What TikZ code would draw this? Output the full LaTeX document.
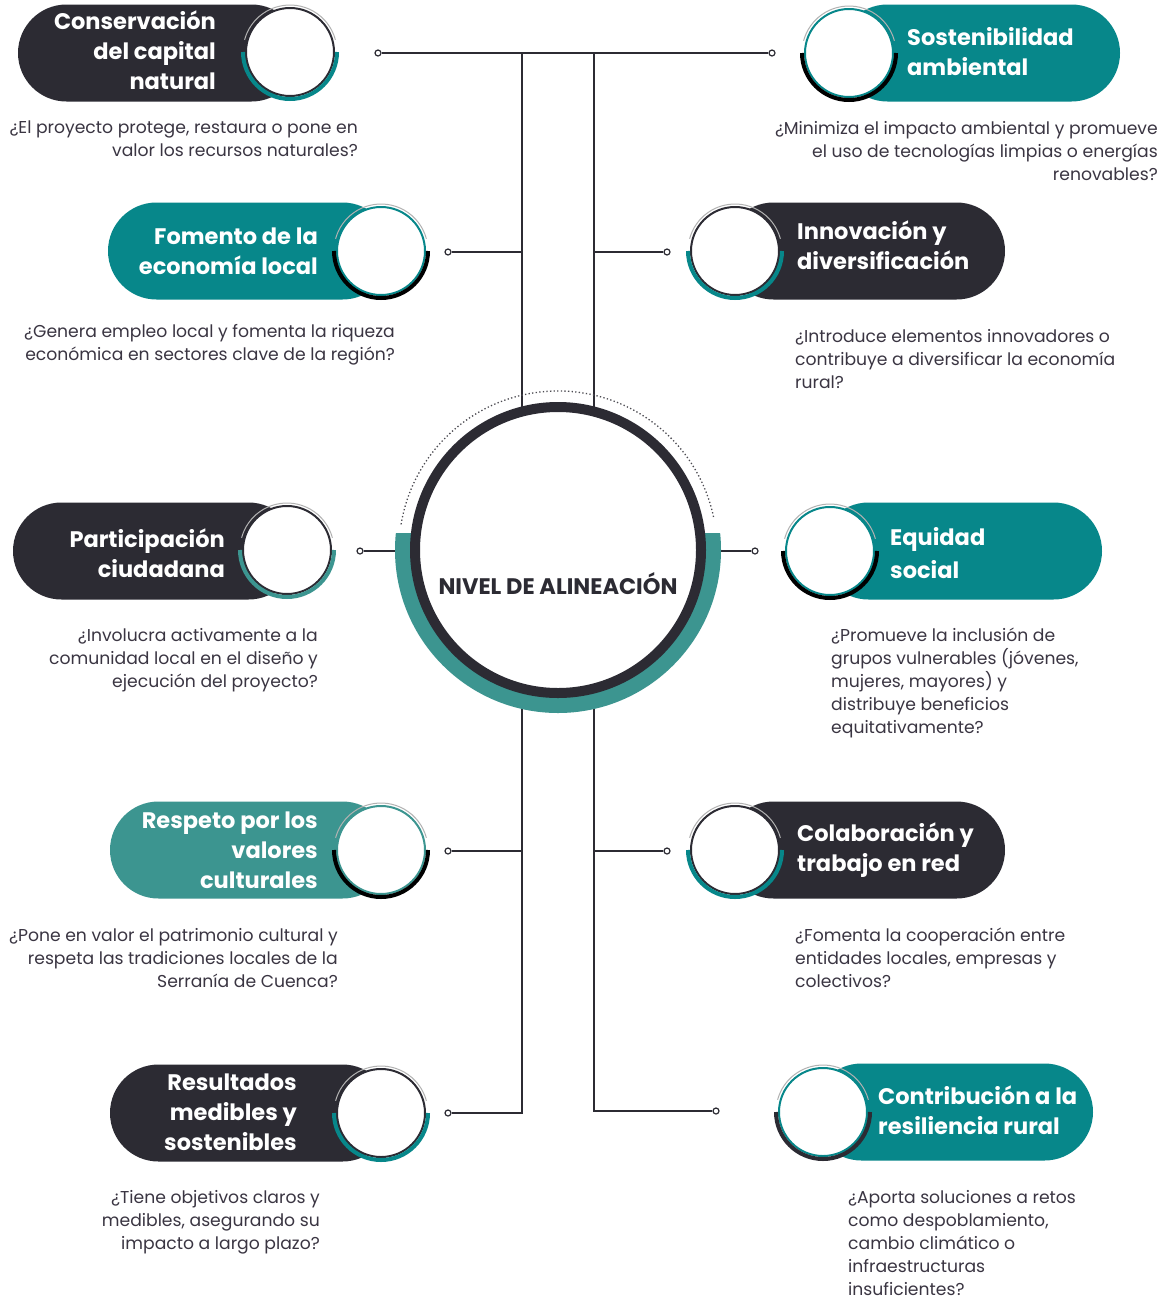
\documentclass[tikz,border=0pt]{standalone}
\usepackage{fontspec}
\setmainfont{Poppins}
\usetikzlibrary{calc}
\definecolor{dk}{HTML}{2C2B33}
\definecolor{tl}{HTML}{07878A}
\definecolor{lt}{HTML}{3C9590}
\definecolor{qt}{HTML}{3A3542}
\begin{document}
\begin{tikzpicture}[x=1pt,y=1pt,
 pill/.style={rounded corners=48.5pt, minimum height=97pt, inner sep=0pt, draw=none},
 disc/.style={circle, fill=white, draw=#1, line width=2pt, minimum size=88pt, inner sep=0pt},
 ttl/.style={inner sep=0pt, text=white, font=\bfseries\fontsize{22.5}{30}\selectfont, execute at begin node=\strut},
 ttlL/.style={ttl, anchor=north east, align=right},
 ttlR/.style={ttl, anchor=north west, align=left},
 qst/.style={inner sep=0pt, text=qt, font=\fontsize{17.2}{23}\selectfont, execute at begin node=\strut},
 qL/.style={qst, anchor=north east, align=right},
 qR/.style={qst, anchor=north west, align=left},
 jdot/.style={circle, draw=dk, fill=white, line width=1.2pt, minimum size=6pt, inner sep=0pt},
 wire/.style={draw=dk, line width=1.3pt},
 ring/.style={line width=4pt, draw=#1},
 gloss/.style={line width=1pt, draw=black!30}
]
\useasboundingbox (0,0) rectangle (1161,-1304);
\fill[white] (0,0) rectangle (1161,-1304);

% junction coordinates
\coordinate (ctr) at (558,-550);
\coordinate (tL) at (522,-53);
\coordinate (tR) at (594,-53);
\coordinate (bL) at (522,-1113);
\coordinate (bR) at (594,-1111);

% connector end dots
\node[jdot] (dL1) at (378,-53) {};
\node[jdot] (dR1) at (772,-53) {};
\node[jdot] (dL2) at (448,-252) {};
\node[jdot] (dR2) at (667,-252) {};
\node[jdot] (dL3) at (360,-551) {};
\node[jdot] (dR3) at (755,-551) {};
\node[jdot] (dL4) at (448,-851) {};
\node[jdot] (dR4) at (667,-851) {};
\node[jdot] (dL5) at (448,-1113) {};
\node[jdot] (dR5) at (716,-1111) {};

% connectors
\draw[wire] (dL1) -- (dR1);
\draw[wire] (tL) -- (tL |- ctr);
\draw[wire] (tR) -- (tR |- ctr);
\draw[wire] (dL2) -- (dL2 -| tL);
\draw[wire] (dR2) -- (dR2 -| tR);
\draw[wire] (dL3) -- (dL3 -| ctr);
\draw[wire] (dR3) -- (dR3 -| ctr);
\draw[wire] (dL4) -- (dL4 -| tL);
\draw[wire] (dR4) -- (dR4 -| tR);
\draw[wire] (dL5) -- (bL) -- (bL |- ctr);
\draw[wire] (dR5) -- (bR) -- (bR |- ctr);

% hub
\begin{scope}
 \clip (380,-533) rectangle (740,-720);
 \fill[lt, even odd rule] (ctr) circle[radius=163] (ctr) circle[radius=146];
\end{scope}
\node[circle, fill=white, draw=dk, line width=10pt, minimum size=286pt, inner sep=0pt] (hub) at (ctr) {};
\draw[dk!85, line width=1.3pt, dash pattern=on 1.3pt off 2.3pt] (ctr) ++(12:159) arc[start angle=12, end angle=171, radius=159];
\node[font=\bfseries\fontsize{22.5}{26}\selectfont, text=dk] (hubt) at (558,-584) {NIVEL DE ALINEACIÓN};

% ---------- left column ----------
\node[pill, fill=dk, minimum width=282pt] (p1) at (159,-53) {};
\node[disc=dk] (c1) at (290,-52) {};
\draw[ring=tl] (c1.center) ++(180:47) arc[start angle=180, end angle=360, radius=47];
\draw[gloss] (c1.center) ++(15:47) arc[start angle=15, end angle=165, radius=47];
\node[ttlL] (t1) at (216,-11) {Conservación\\del capital\\natural};
\node[qL] (q1) at (358,-121) {¿El proyecto protege, restaura o pone en\\valor los recursos naturales?};

\node[pill, fill=tl, minimum width=283pt] (p3) at (249.5,-251) {};
\node[disc=tl] (c3) at (381,-251) {};
\draw[ring=black] (c3.center) ++(180:47) arc[start angle=180, end angle=360, radius=47];
\draw[gloss] (c3.center) ++(15:47) arc[start angle=15, end angle=165, radius=47];
\node[ttlL] (t3) at (318,-228) {Fomento de la\\economía local};
\node[qL] (q3) at (395,-324) {¿Genera empleo local y fomenta la riqueza\\económica en sectores clave de la región?};

\node[pill, fill=dk, minimum width=284pt] (p5) at (155,-551) {};
\node[disc=dk] (c5) at (287,-550) {};
\draw[ring=lt] (c5.center) ++(180:47) arc[start angle=180, end angle=360, radius=47];
\draw[gloss] (c5.center) ++(15:47) arc[start angle=15, end angle=165, radius=47];
\node[ttlL] (t5) at (225,-529) {Participación\\ciudadana};
\node[qL] (q5) at (318,-628) {¿Involucra activamente a la\\comunidad local en el diseño y\\ejecución del proyecto?};

\node[pill, fill=lt, minimum width=281pt] (p7) at (250.5,-850) {};
\node[disc=lt] (c7) at (381,-850) {};
\draw[ring=black] (c7.center) ++(180:47) arc[start angle=180, end angle=360, radius=47];
\draw[gloss] (c7.center) ++(15:47) arc[start angle=15, end angle=165, radius=47];
\node[ttlL] (t7) at (318,-812) {Respeto por los\\valores\\culturales};
\node[qL] (q7) at (338,-928) {¿Pone en valor el patrimonio cultural y\\respeta las tradiciones locales de la\\Serranía de Cuenca?};

\node[pill, fill=dk, minimum width=281pt] (p9) at (250.5,-1113) {};
\node[disc=dk] (c9) at (381,-1113) {};
\draw[ring=tl] (c9.center) ++(180:47) arc[start angle=180, end angle=360, radius=47];
\draw[gloss] (c9.center) ++(15:47) arc[start angle=15, end angle=165, radius=47];
\node[ttlL] (t9) at (297,-1074) {Resultados\\medibles y\\sostenibles};
\node[qL] (q9) at (320,-1190) {¿Tiene objetivos claros y\\medibles, asegurando su\\impacto a largo plazo?};

% ---------- right column ----------
\node[pill, fill=tl, minimum width=281pt] (p2) at (979.5,-53) {};
\node[disc=tl] (c2) at (849,-53) {};
\draw[ring=black] (c2.center) ++(180:47) arc[start angle=180, end angle=360, radius=47];
\draw[gloss] (c2.center) ++(15:47) arc[start angle=15, end angle=165, radius=47];
\node[ttlR] (t2) at (907,-27) {Sostenibilidad\\ambiental};
\node[qL] (q2) at (1158,-121) {¿Minimiza el impacto ambiental y promueve\\el uso de tecnologías limpias o energías\\renovables?};

\node[pill, fill=dk, minimum width=280pt] (p4) at (865,-251) {};
\node[disc=dk] (c4) at (735,-251) {};
\draw[ring=tl] (c4.center) ++(180:47) arc[start angle=180, end angle=360, radius=47];
\draw[gloss] (c4.center) ++(15:47) arc[start angle=15, end angle=165, radius=47];
\node[ttlR] (t4) at (797,-221) {Innovación y\\diversificación};
\node[qR] (q4) at (795,-329) {¿Introduce elementos innovadores o\\contribuye a diversificar la economía\\rural?};

\node[pill, fill=tl, minimum width=282pt] (p6) at (961,-551) {};
\node[disc=tl] (c6) at (830,-551) {};
\draw[ring=black] (c6.center) ++(180:47) arc[start angle=180, end angle=360, radius=47];
\draw[gloss] (c6.center) ++(15:47) arc[start angle=15, end angle=165, radius=47];
\node[ttlR, font=\bfseries\fontsize{22.5}{33}\selectfont] (t6) at (890,-527) {Equidad\\social};
\node[qR] (q6) at (831,-628) {¿Promueve la inclusión de\\grupos vulnerables (jóvenes,\\mujeres, mayores) y\\distribuye beneficios\\equitativamente?};

\node[pill, fill=dk, minimum width=280pt] (p8) at (865,-850) {};
\node[disc=dk] (c8) at (735,-850) {};
\draw[ring=tl] (c8.center) ++(180:47) arc[start angle=180, end angle=360, radius=47];
\draw[gloss] (c8.center) ++(15:47) arc[start angle=15, end angle=165, radius=47];
\node[ttlR] (t8) at (797,-823) {Colaboración y\\trabajo en red};
\node[qR] (q8) at (795,-928) {¿Fomenta la cooperación entre\\entidades locales, empresas y\\colectivos?};

\node[pill, fill=tl, minimum width=280pt] (p10) at (953,-1112) {};
\node[disc=tl] (c10) at (823,-1112) {};
\draw[ring=dk] (c10.center) ++(180:47) arc[start angle=180, end angle=360, radius=47];
\draw[gloss] (c10.center) ++(15:47) arc[start angle=15, end angle=165, radius=47];
\node[ttlR] (t10) at (878,-1086) {Contribución a la\\resiliencia rural};
\node[qR] (q10) at (848,-1190) {¿Aporta soluciones a retos\\como despoblamiento,\\cambio climático o\\infraestructuras\\insuficientes?};
\end{tikzpicture}
\end{document}
